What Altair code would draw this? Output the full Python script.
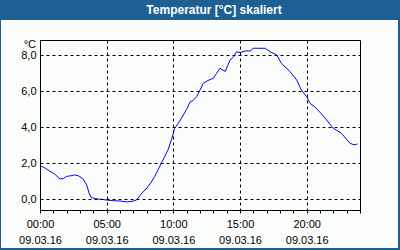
import altair as alt
import pandas as pd

hours = [0.0, 0.4, 0.75, 1.1, 1.5, 1.75, 2.0, 2.3, 2.6, 2.9, 3.25, 3.5, 3.7, 3.85,
         4.2, 4.6, 5.0, 5.5, 6.0, 6.5, 6.9, 7.25, 7.6, 8.0, 8.3, 8.6, 9.1, 9.6, 9.9,
         10.1, 10.4, 10.75, 11.0, 11.25, 11.5, 11.75, 12.0, 12.25, 12.6, 13.0, 13.25,
         13.5, 13.9, 14.25, 14.5, 14.75, 15.0, 15.4, 15.75, 16.0, 16.9, 17.25, 17.75,
         18.1, 18.75, 19.25, 19.6, 20.0, 20.25, 20.6, 21.25, 21.6, 22.0, 22.6, 23.25,
         23.55, 23.8]
temps = [1.87, 1.72, 1.55, 1.40, 1.12, 1.15, 1.27, 1.30, 1.35, 1.30, 1.11, 0.79, 0.30, 0.09,
         0.02, 0.00, -0.05, -0.08, -0.10, -0.15, -0.12, -0.04, 0.30, 0.61, 0.90, 1.26, 2.00,
         2.74, 3.40, 3.94, 4.25, 4.68, 5.00, 5.40, 5.50, 5.70, 6.07, 6.44, 6.60, 6.72, 7.00,
         7.28, 7.10, 7.74, 7.90, 8.20, 8.15, 8.24, 8.24, 8.39, 8.39, 8.20, 8.02, 7.56, 7.09,
         6.63, 6.07, 5.70, 5.33, 5.14, 4.63, 4.30, 3.94, 3.67, 3.11, 3.02, 3.07]

x_ticks = list(range(0, 25))
y_ticks = [0, 2, 4, 6, 8]
date_label = "09.03.16"
title_text = "Temperatur [°C] skaliert"
unit_text = "°C"

BLUE = "#1d6094"
BG = "#fbfdfb"
FONT = "Liberation Sans"

df = pd.DataFrame({"h": hours, "t": temps})
one = pd.DataFrame({"a": [0]})

xscale = alt.Scale(domain=[0, 24], nice=False, zero=False)
yscale = alt.Scale(domain=[-0.6, 8.85], nice=False, zero=False)

line = alt.Chart(df).mark_line(color="#0000ff", strokeWidth=1).encode(
    x=alt.X("h:Q", scale=xscale, title=None,
            axis=alt.Axis(values=x_ticks, grid=True,
                          gridOpacity=alt.expr("datum.value % 5 === 0 && datum.value > 0 ? 1 : 0"),
                          gridColor="black", gridDash=[3, 3], gridWidth=1,
                          domainColor="black", tickColor="black", tickSize=3,
                          labelExpr="datum.value % 5 === 0 ? [pad(toString(datum.value), 2, '0', 'left') + ':00', '" + date_label + "'] : ''",
                          labelFont=FONT, labelFontSize=11, labelColor="black",
                          labelLineHeight=16, labelPadding=5, labelOverlap=False,
                          labelFlush=False, zindex=1)),
    y=alt.Y("t:Q", scale=yscale, title=None,
            axis=alt.Axis(values=y_ticks, grid=True, gridColor="black",
                          gridDash=[3, 3], gridWidth=1, tickSize=0,
                          domainColor="black",
                          labelExpr="replace(format(datum.value, '.1f'), '.', ',')",
                          labelFont=FONT, labelFontSize=11, labelColor="black",
                          labelPadding=4, zindex=1)),
)

def rect(x1, x2, y1, y2):
    return alt.Chart(one).mark_rect(color=BLUE).encode(
        x=alt.value(x1), x2=alt.value(x2), y=alt.value(y1), y2=alt.value(y2))

title_bar = rect(-40, 360, -40, -20)
left_b = rect(-40, -39, -40, 210)
right_b = rect(358, 360, -40, 210)
bottom_b = rect(-40, 360, 208, 210)

title = alt.Chart(one).mark_text(
    text=title_text, font=FONT, fontSize=12, fontWeight="bold", color="white",
    align="center", baseline="middle").encode(x=alt.value(174), y=alt.value(-30))

unit = alt.Chart(one).mark_text(
    text=unit_text, font=FONT, fontSize=11, color="black",
    align="right", baseline="middle").encode(x=alt.value(-4), y=alt.value(5))

chart = alt.layer(title_bar, left_b, right_b, bottom_b, title, unit, line).properties(
    width=320, height=170,
    autosize=alt.AutoSizeParams(type="none"),
    padding={"left": 40, "top": 40, "right": 40, "bottom": 40},
    background=BG,
).configure_view(stroke="black", strokeWidth=1)

chart.save("out.html", embed_options={"renderer": "svg", "actions": False})
